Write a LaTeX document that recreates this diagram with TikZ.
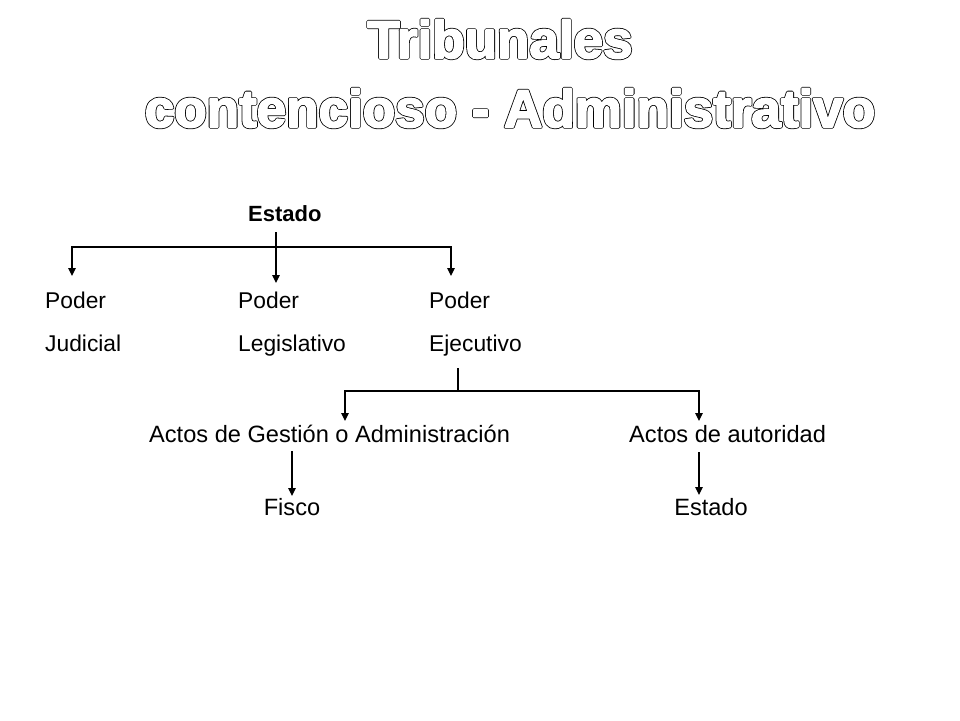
\documentclass[tikz,border=0pt]{standalone}
\usepackage{fontspec}
\setmainfont{Liberation Sans}
\usetikzlibrary{arrows.meta}
\newcommand{\hollowtext}[1]{\rlap{\special{pdf:code 2 Tr 3.4 w 1 j}#1}{\color{white}\special{pdf:code 2 Tr 1.8 w 1 j}#1}\special{pdf:code 0 Tr 0 j}}
\begin{document}
\begin{tikzpicture}[x=1pt,y=-1pt,
  lbl/.style={inner sep=0pt,anchor=base west,font=\fontsize{22.8}{26}\selectfont},
  lbl2/.style={inner sep=0pt,anchor=base west,font=\fontsize{23.6}{27}\selectfont},
  ttl/.style={inner sep=0pt,anchor=base,font=\fontsize{53}{60}\bfseries\selectfont},
  conn/.style={line width=1.1pt,draw=black},
  arr/.style={conn,-{Triangle[width=7.5pt,length=8pt]}}]
\useasboundingbox (0,0) rectangle (960,720);
\fill[white] (0,0) rectangle (960,720);
% nodes
\node[inner sep=0pt,anchor=base west,font=\fontsize{22}{26}\bfseries\selectfont] (estado) at (248,221) {Estado};
\node[lbl] (pj) at (45,308) {Poder};
\node[lbl] (jud) at (45,351) {Judicial};
\node[lbl] (pl) at (238,308) {Poder};
\node[lbl] (leg) at (238,351) {Legislativo};
\node[lbl] (pe) at (429,308) {Poder};
\node[lbl] (eje) at (429,351) {Ejecutivo};
\node[lbl2] (gest) at (149,442) {Actos de Gestión o Administración};
\node[lbl2] (aut) at (629,442) {Actos de autoridad};
\node[lbl2,anchor=base] (fisco) at (292,515) {Fisco};
\node[lbl2,anchor=base] (estado2) at (711,515) {Estado};
% coordinates
\coordinate (e0) at (276,232);
\coordinate (e1) at (276,247);
\coordinate (tl) at (72,276);
\coordinate (tm) at (276,283);
\coordinate (tr) at (451,276);
\coordinate (x0) at (458,368);
\coordinate (x1) at (458,391);
\coordinate (gl) at (345,421);
\coordinate (gr) at (699,421);
\coordinate (f0) at (292,451);
\coordinate (f1) at (292,496);
\coordinate (s0) at (699,452);
\coordinate (s1) at (699,495);
% connectors
\draw[arr] (e0) -- (tm);
\draw[arr] (e1) -| (tl);
\draw[arr] (e1) -| (tr);
\draw[conn] (x0) -- (x1);
\draw[arr] (x1) -| (gl);
\draw[arr] (x1) -| (gr);
\draw[arr] (f0) -- (f1);
\draw[arr] (s0) -- (s1);
% title (outlined)
\node[ttl] (t1) at (500,58) {\hollowtext{Tribunales}};
\node[ttl] (t2) at (510,127) {\hollowtext{contencioso - Administrativo}};
\end{tikzpicture}
\end{document}
